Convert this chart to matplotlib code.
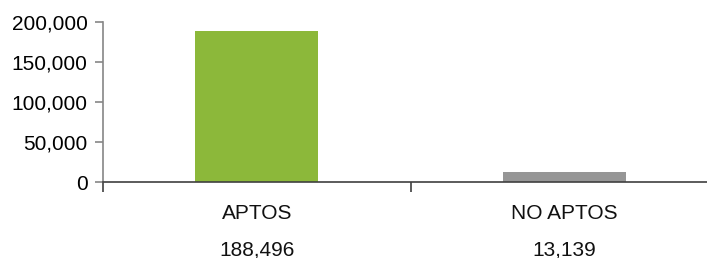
import matplotlib.pyplot as plt
import matplotlib.transforms as mtransforms
from matplotlib.ticker import FuncFormatter

# Data
categories = ['APTOS', 'NO APTOS']
values = [188496, 13139]
colors = ['#8cb83a', '#969696']

plt.rcParams['font.family'] = ['Liberation Sans', 'DejaVu Sans']

fig = plt.figure(figsize=(7.07, 2.58), dpi=100)
ax = fig.add_axes([103 / 707, 1 - 182.3 / 258, 604 / 707, 160.3 / 258])

x = list(range(len(categories)))
ax.bar(x, values, width=0.4, color=colors, zorder=2)

# plot area is cut off at the right edge, like the original
ax.set_xlim(-0.5, -0.5 + 604 / 307.5)
ax.set_ylim(0, 200000)
ax.set_yticks([0, 50000, 100000, 150000, 200000])
ax.yaxis.set_major_formatter(FuncFormatter(lambda v, _: f'{v:,.0f}'))
ax.set_xticks([-0.5, 0.5])
ax.set_xticklabels([])

for s in ['top', 'right']:
    ax.spines[s].set_visible(False)
ax.spines['left'].set_color('#868686')
ax.spines['bottom'].set_color('#404040')
ax.spines['left'].set_linewidth(1.2)
ax.spines['bottom'].set_linewidth(1.2)

ax.tick_params(axis='y', length=6, width=1.2, color='#868686', labelsize=15, pad=5)
ax.tick_params(axis='x', length=7, width=1.2, color='#404040')

# category names and values under the axis
trans = mtransforms.blended_transform_factory(ax.transData, fig.transFigure)
for i, (cat, val) in enumerate(zip(categories, values)):
    ax.text(i, 1 - 213.5 / 258, cat, transform=trans, ha='center', va='center',
            fontsize=15, color='#111111')
    ax.text(i, 1 - 250 / 258, f'{val:,}', transform=trans, ha='center', va='center',
            fontsize=15, color='#111111')

fig.savefig('out.png', dpi=100)
